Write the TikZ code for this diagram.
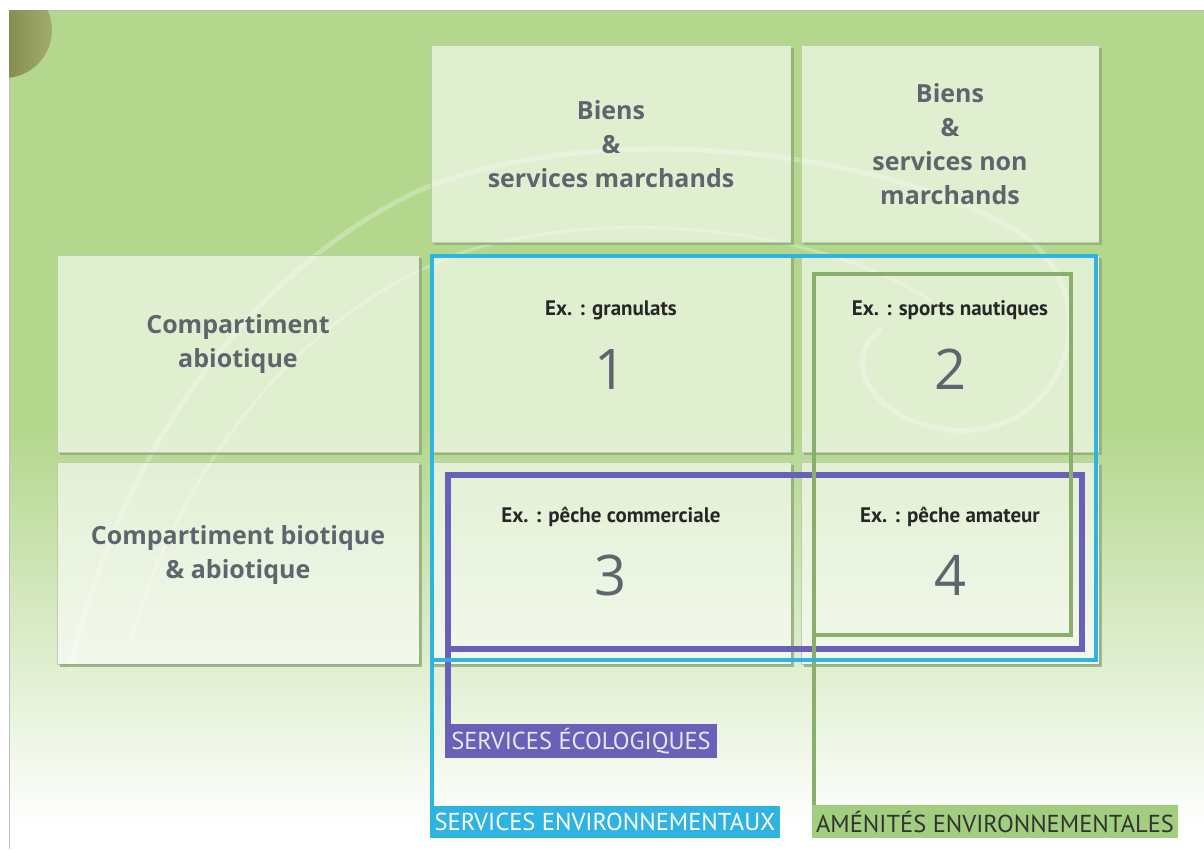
\documentclass[tikz,border=0pt]{standalone}
\usepackage{fontspec}
\setmainfont{Open Sans}
\newfontfamily\narrowfont{PT Sans}
\usetikzlibrary{positioning}
\definecolor{bggreen}{HTML}{B4D78E}
\definecolor{boxshadow}{HTML}{8FAA76}
\definecolor{txtgrey}{HTML}{5E656D}
\definecolor{envcyan}{HTML}{2FB4E2}
\definecolor{ecopurple}{HTML}{6A60B8}
\definecolor{amengreen}{HTML}{A2CE80}
\definecolor{olivedark}{HTML}{5F6A2E}
\definecolor{olivelight}{HTML}{A3AC6E}
\tikzset{
  pale/.style={fill=white, fill opacity=0.6, text opacity=1, draw=boxshadow!60,
    line width=0.6pt, inner sep=0pt, align=center, text=txtgrey,
    font=\bfseries\fontsize{25}{34}\selectfont},
  shadowline/.style={boxshadow, line width=2.2pt, opacity=0.8},
  extext/.style={font=\narrowfont\bfseries\fontsize{21}{21}\selectfont, text=black!85, inner sep=0pt},
  numtext/.style={font=\fontsize{56}{56}\selectfont, text=txtgrey, inner sep=0pt},
  tag/.style={inner sep=0pt, minimum height=33pt, font=\narrowfont\fontsize{24.5}{24.5}\selectfont},
  frame/.style={line width=#1, line join=miter},
  splash/.style={white, opacity=0.25, line width=#1, line cap=round}
}
\begin{document}
\begin{tikzpicture}[x=1pt, y=-1pt]
\useasboundingbox (0,0) rectangle (1204,849);
% background
\fill[white] (0,0) rectangle (1204,849);
\fill[bggreen] (9,10) rectangle (1204,430);
\shade[top color=bggreen, bottom color=white] (9,430) rectangle (1204,830);
\fill[white] (9,830) rectangle (1204,849);
\draw[black!25, line width=0.8pt] (9,849) -- (9,10) -- (1204,10);
\begin{scope}
  \clip (9,10) rectangle (120,120);
  \shade[left color=olivedark, right color=olivelight] (4,30) circle (48);
\end{scope}
% faint water swirl
\draw[splash=5pt] (70,670) .. controls (120,450) and (250,270) .. (420,190)
  .. controls (600,115) and (900,150) .. (1030,240)
  .. controls (1110,310) and (1060,440) .. (950,430)
  .. controls (870,420) and (840,360) .. (880,330);
\draw[splash=3pt] (130,640) .. controls (190,440) and (320,300) .. (470,250)
  .. controls (620,205) and (820,230) .. (930,300);

% column heads
\node[pale, minimum width=360pt, minimum height=197pt] (colm) at (611,144)
  {Biens\\\&\\services marchands};
\node[pale, minimum width=298pt, minimum height=197pt] (colnm) at (950,144)
  {Biens\\\&\\services non\\marchands};
% row heads
\node[pale, minimum width=362pt, minimum height=197pt] (rowab) at (238,354) {};
\node[pale, minimum width=362pt, minimum height=202pt] (rowbio) at (238,563) {};
\node[text=txtgrey, align=center, font=\bfseries\fontsize{25}{34}\selectfont]
  (rowabtxt) at ([yshift=10pt]rowab.center) {Compartiment\\abiotique};
\node[text=txtgrey, align=center, font=\bfseries\fontsize{25}{34}\selectfont]
  (rowbiotxt) at ([yshift=8pt]rowbio.center) {Compartiment biotique\\\& abiotique};

% the four cells
\foreach \n/\x/\y/\w/\h/\ex/\num in {cA/611/354/360/197/granulats/1,
    cB/950/354/298/197/sports nautiques/2,
    cC/611/563/360/202/pêche commerciale/3,
    cD/950/563/298/202/pêche amateur/4}
{
  \node[pale, minimum width=\w pt, minimum height=\h pt] (\n) at (\x,\y) {};
  \node[extext] (\n ex) at ([yshift=-55pt]\n.north) {Ex. : \ex};
  \node[numtext] (\n num) at ([yshift=-114pt]\n.north) {\num};
}
\foreach \b in {colm,colnm,rowab,rowbio,cA,cB,cC,cD}
  \draw[shadowline] ([shift={(3pt,-1.2pt)}]\b.south west) -- ([shift={(1.2pt,-1.2pt)}]\b.south east)
    -- ([shift={(1.2pt,-3pt)}]\b.north east);

% tags
\node[tag, fill=ecopurple, text=ecopurple!15, minimum width=272pt, minimum height=34pt]
  (ecotag) at (581,741) {SERVICES ÉCOLOGIQUES};
\node[tag, fill=envcyan, text=white, minimum width=350pt, minimum height=32pt]
  (envtag) at (605,822) {SERVICES ENVIRONNEMENTAUX};
\node[tag, fill=amengreen, text=black!80, minimum width=366pt]
  (amentag) at (995,821.5) {AMÉNITÉS ENVIRONNEMENTALES};

% frames
\coordinate (ecoNW) at (448,475);
\coordinate (ecoSE) at (1082,649);
\coordinate (amenNW) at (814,274);
\coordinate (amenSE) at (1071,635);
\coordinate (envNW) at (432,256);
\coordinate (envSE) at (1096,660);
\draw[frame=6pt, ecopurple] (ecotag.north west -| ecoNW) -- (ecoNW) -- (ecoNW -| ecoSE)
  -- (ecoSE) -- (ecoSE -| ecoNW);
\draw[frame=3.5pt, amengreen!85!black] (amentag.north west -| amenNW) -- (amenNW) -- (amenNW -| amenSE)
  -- (amenSE) -- (amenSE -| amenNW);
\draw[frame=4pt, envcyan] (envtag.north west -| envNW) -- (envNW) -- (envNW -| envSE)
  -- (envSE) -- (envSE -| envNW);
\end{tikzpicture}
\end{document}
